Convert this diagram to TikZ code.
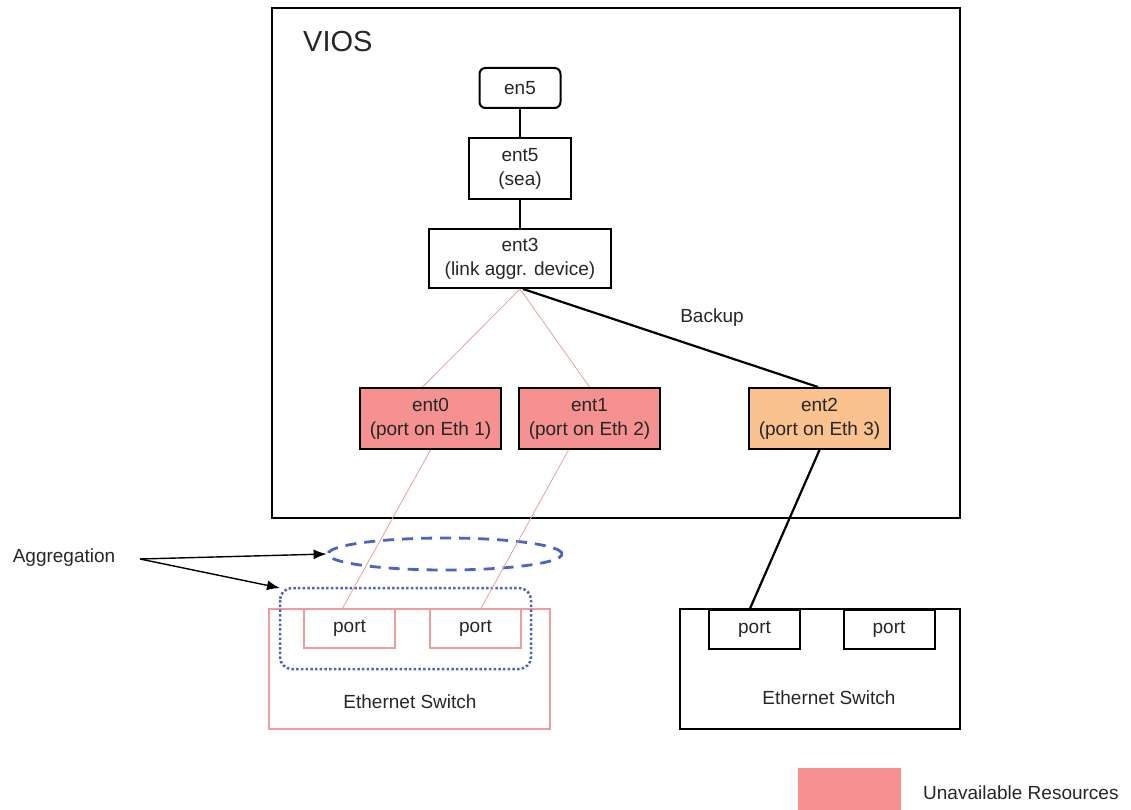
\documentclass[tikz,border=0pt]{standalone}
\usepackage{fontspec}
\setmainfont{Liberation Sans}
\usetikzlibrary{arrows.meta,positioning,shapes.geometric}
\definecolor{unavail}{HTML}{F59191}
\definecolor{backupfill}{HTML}{F9C28E}
\definecolor{palered}{HTML}{EE9C9C}
\definecolor{aggblue}{HTML}{4A64C4}
\tikzset{
  lbl/.style={font=\fontsize{19}{24}\selectfont, text=black!85},
  dev/.style={lbl, draw=black, line width=2pt, inner sep=0pt, align=center},
  portbox/.style={lbl, draw, inner sep=0pt, minimum width=91pt, minimum height=39pt},
  sw/.style={draw, inner sep=0pt},
  redlink/.style={draw=palered, line width=0.8pt},
  blacklink/.style={draw=black, line width=2.2pt},
  pointer/.style={draw=black, line width=1.4pt, -{Latex[length=13pt,width=10pt]}}
}
\begin{document}
\begin{tikzpicture}[x=1pt,y=-1pt]
\useasboundingbox (0,0) rectangle (1131,810);

% virtual I/O server frame
\draw[line width=2pt] (272,8) rectangle (960,518);
\node[anchor=base west, inner sep=0pt, font=\fontsize{29}{34}\selectfont, text=black!85] (vios) at (303,52) {VIOS};

% device stack
\node[dev, rounded corners=6pt, minimum width=81pt, minimum height=40pt] (en5) at (520,88) {en5};
\node[dev, minimum width=102pt, minimum height=61pt] (ent5) at (520,168.5) {ent5\\(sea)};
\node[dev, minimum width=182pt, minimum height=59pt] (ent3) at (520,258.5) {ent3\\(link aggr. device)};
\node[dev, fill=unavail, minimum width=141pt, minimum height=61pt] (ent0) at (430.5,418.5) {ent0\\(port on Eth 1)};
\node[dev, fill=unavail, minimum width=141pt, minimum height=61pt] (ent1) at (589.5,418.5) {ent1\\(port on Eth 2)};
\node[dev, fill=backupfill, minimum width=141pt, minimum height=61pt] (ent2) at (819.5,418.5) {ent2\\(port on Eth 3)};

\draw[line width=1.2pt] (en5.south) -- (ent5.north);
\draw[line width=1.2pt] (ent5.south) -- (ent3.north);

% ethernet switches
\node[sw, draw=palered, line width=1.5pt, minimum width=281pt, minimum height=120pt] (swl) at (409.5,669) {};
\node[sw, draw=black, line width=2pt, minimum width=280pt, minimum height=120pt] (swr) at (820,669) {};
\node[lbl] (swltxt) at (410,702) {Ethernet Switch};
\node[lbl] (swrtxt) at (829,698) {Ethernet Switch};

\node[portbox, draw=palered, line width=1.5pt] (p1) at (349.5,628.5) {port};
\node[portbox, draw=palered, line width=1.5pt] (p2) at (475.5,628.5) {port};
\node[portbox, draw=black, line width=2pt] (p3) at (754.5,629) {port};
\node[portbox, draw=black, line width=2pt] (p4) at (889,629) {port};

% aggregation groups
\node[draw=aggblue, line width=2.8pt, dash pattern=on 11pt off 8pt, ellipse, minimum width=234pt, minimum height=32pt, inner sep=0pt] (aggel) at (445,554) {};
\draw[aggblue, line width=2.5pt, dash pattern=on 2.5pt off 2.2pt, rounded corners=12pt] (280,588) rectangle (531,669);
\coordinate (aggrect) at (280,588);

% links
\draw[redlink] (ent3.south) -- ([xshift=-8pt]ent0.north);
\draw[redlink] (ent3.south) -- (ent1.north);
\draw[redlink] (ent0.south) -- ([xshift=-7pt]p1.north);
\draw[redlink] ([xshift=-21pt]ent1.south) -- ([xshift=5.5pt]p2.north);
\draw[blacklink] ([xshift=3pt]ent3.south) -- ([xshift=-1.5pt]ent2.north);
\draw[blacklink] (ent2.south) -- ([xshift=-4.5pt]p3.north);
\node[lbl] (backup) at (712,318) {Backup};

% callout
\node[lbl] (agg) at (64,558) {Aggregation};
\coordinate (aggfrom) at (140,559);
\draw[pointer] (aggfrom) -- (aggel.west);
\draw[pointer] (aggfrom) -- (aggrect);

% legend
\node[fill=unavail, minimum width=103pt, minimum height=42pt, inner sep=0pt] (legbox) at (849.5,789) {};
\node[lbl, anchor=west, inner sep=0pt] (legtxt) at (923,793) {Unavailable Resources};
\end{tikzpicture}
\end{document}
